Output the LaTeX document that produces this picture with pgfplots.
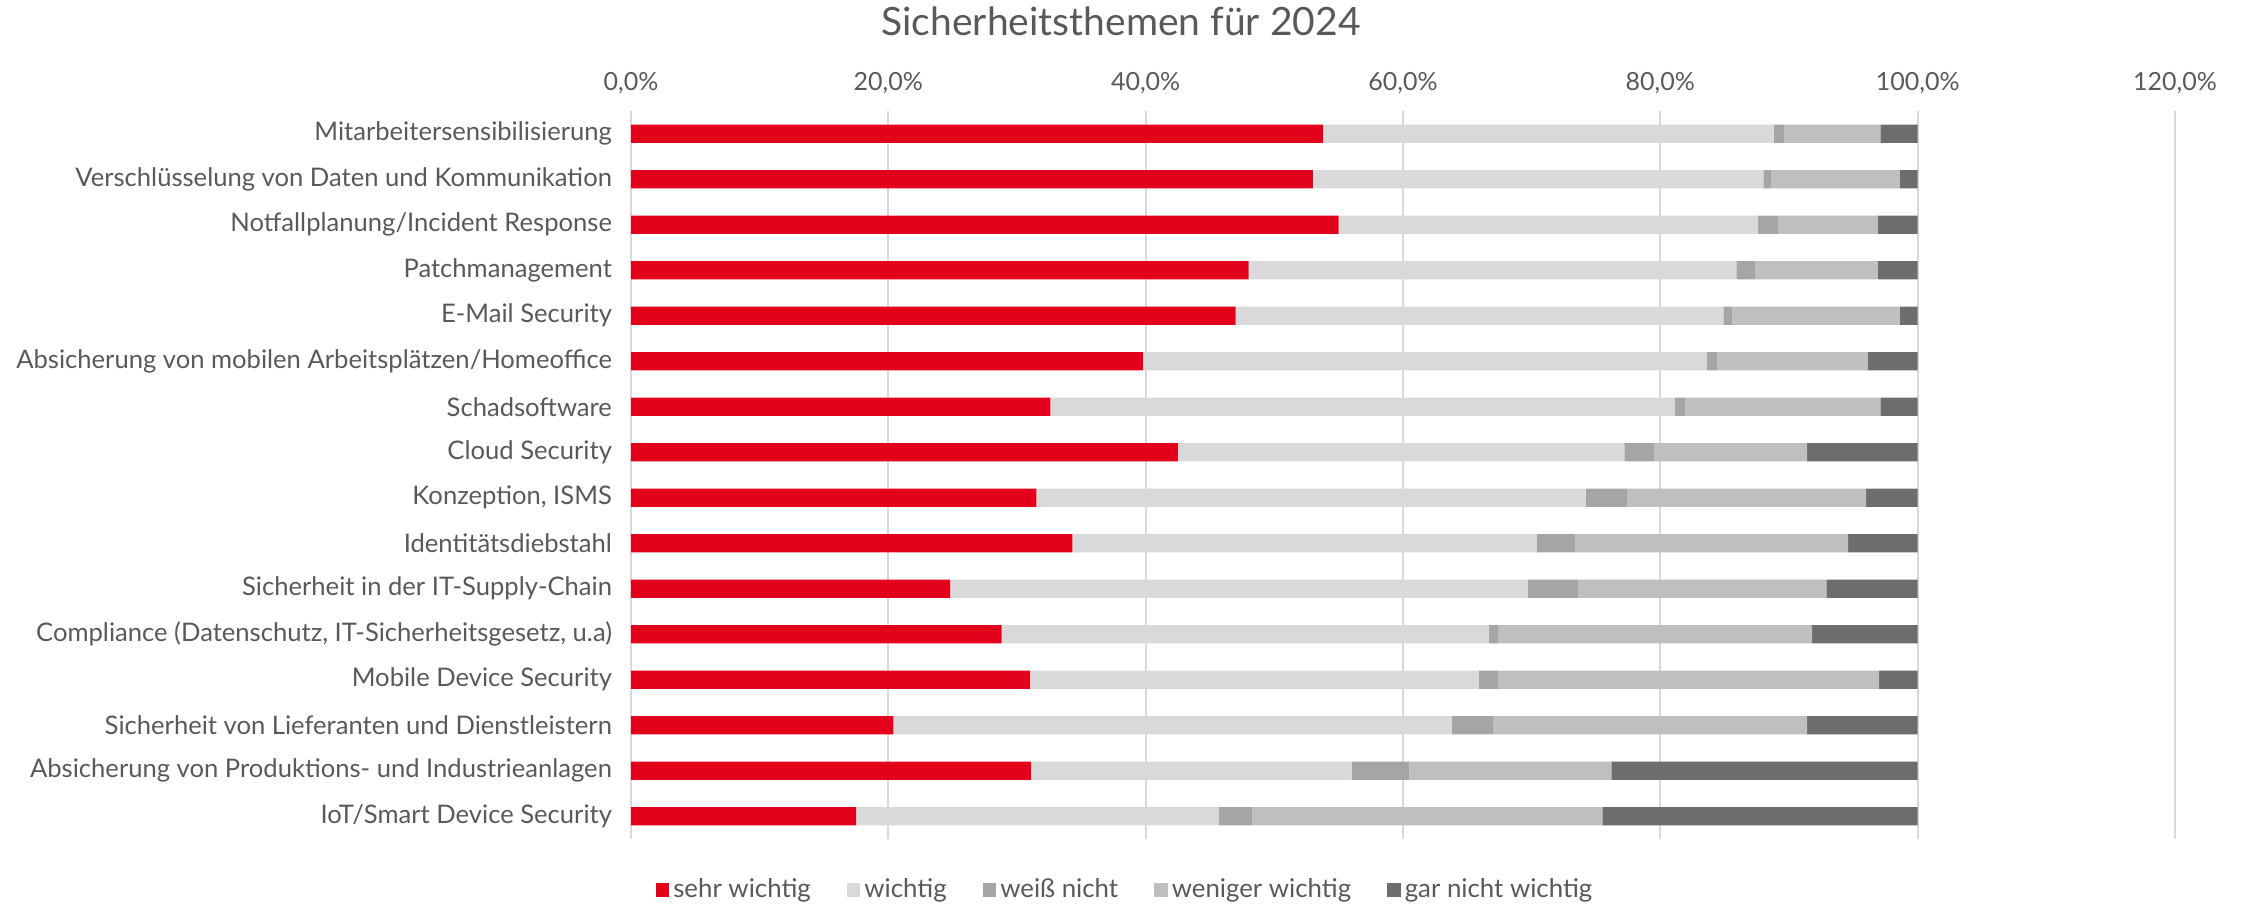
\documentclass[border=0pt]{standalone}
\usepackage{fontspec}
\setmainfont{Lato}
\usepackage{pgfplots}
\pgfplotsset{compat=1.18}
\definecolor{cRed}{HTML}{E2001A}
\definecolor{cWichtig}{HTML}{D9D9D9}
\definecolor{cWeiss}{HTML}{A5A5A5}
\definecolor{cWeniger}{HTML}{BFBFBF}
\definecolor{cGar}{HTML}{6D6D6D}
\definecolor{txt}{HTML}{595959}
\definecolor{gridc}{HTML}{D9D9D9}
\begin{document}
\begin{tikzpicture}
\useasboundingbox (0,0) rectangle (1121pt,453pt);
\begin{axis}[
  at={(315.5pt,33.5pt)}, anchor=south west,
  scale only axis, width=772pt, height=364pt,
  xbar stacked, bar width=9.2pt,
  xmin=0, xmax=120, ymin=-0.5, ymax=15.5,
  y dir=reverse,
  axis line style={draw=none},
  major tick length=0pt,
  tick style={draw=none},
  xtick={0,20,40,60,80,100,120},
  xticklabels={{0,0\%},{20,0\%},{40,0\%},{60,0\%},{80,0\%},{100,0\%},{120,0\%}},
  xticklabel pos=upper,
  xticklabel style={font=\fontsize{12.5}{14}\selectfont, text=txt, anchor=base, yshift=10.5pt},
  xmajorgrids=true, ymajorgrids=false,
  major grid style={draw=gridc, line width=0.9pt},
  ytick={0,...,15},
  yticklabels={
    Mitarbeitersensibilisierung,
    Verschlüsselung von Daten und Kommunikation,
    Notfallplanung/Incident Response,
    Patchmanagement,
    E-Mail Security,
    Absicherung von mobilen Arbeitsplätzen/Homeoffice,
    Schadsoftware,
    Cloud Security,
    {Konzeption, ISMS},
    Identitätsdiebstahl,
    Sicherheit in der IT-Supply-Chain,
    {Compliance (Datenschutz, IT-Sicherheitsgesetz, u.a)},
    Mobile Device Security,
    Sicherheit von Lieferanten und Dienstleistern,
    Absicherung von Produktions- und Industrieanlagen,
    IoT/Smart Device Security},
  yticklabel style={font=\fontsize{12.8}{14}\selectfont, text=txt, anchor=east, xshift=-6pt},
  title={Sicherheitsthemen für 2024},
  title style={font=\fontsize{19.5}{22}\selectfont, text=txt, at={(0.3174,1.107)}, anchor=center},
  legend columns=5,
  legend style={draw=none, fill=none, at={(0.3206,-0.070)}, anchor=center,
    font=\fontsize{12.9}{14}\selectfont, text=txt,
    /tikz/every even column/.append style={column sep=16pt},
    legend cell align=left, inner sep=0pt},
  legend image code/.code={\fill[#1] (0pt,-3.4pt) rectangle (6.8pt,3.4pt);},
]
\addplot[fill=cRed, draw=none] coordinates {
(53.8,0) (53.0,1) (55.0,2) (48.0,3) (47.0,4) (39.8,5) (32.6,6) (42.5,7)
(31.5,8) (34.3,9) (24.8,10) (28.8,11) (31.0,12) (20.4,13) (31.1,14) (17.5,15)};
\addplot[fill=cWichtig, draw=none] coordinates {
(35.0,0) (35.0,1) (32.6,2) (37.9,3) (37.9,4) (43.8,5) (48.5,6) (34.7,7)
(42.7,8) (36.1,9) (44.9,10) (37.9,11) (34.9,12) (43.4,13) (24.9,14) (28.2,15)};
\addplot[fill=cWeiss, draw=none] coordinates {
(0.8,0) (0.6,1) (1.6,2) (1.5,3) (0.7,4) (0.8,5) (0.8,6) (2.3,7)
(3.2,8) (3.0,9) (3.9,10) (0.7,11) (1.5,12) (3.2,13) (4.5,14) (2.6,15)};
\addplot[fill=cWeniger, draw=none] coordinates {
(7.5,0) (10.0,1) (7.7,2) (9.5,3) (13.0,4) (11.7,5) (15.2,6) (11.9,7)
(18.6,8) (21.2,9) (19.3,10) (24.4,11) (29.6,12) (24.4,13) (15.7,14) (27.2,15)};
\addplot[fill=cGar, draw=none] coordinates {
(2.9,0) (1.4,1) (3.1,2) (3.1,3) (1.4,4) (3.9,5) (2.9,6) (8.6,7)
(4.0,8) (5.4,9) (7.1,10) (8.2,11) (3.0,12) (8.6,13) (23.8,14) (24.5,15)};
\legend{sehr wichtig, wichtig, weiß nicht, weniger wichtig, gar nicht wichtig}
\end{axis}
\end{tikzpicture}
\end{document}
